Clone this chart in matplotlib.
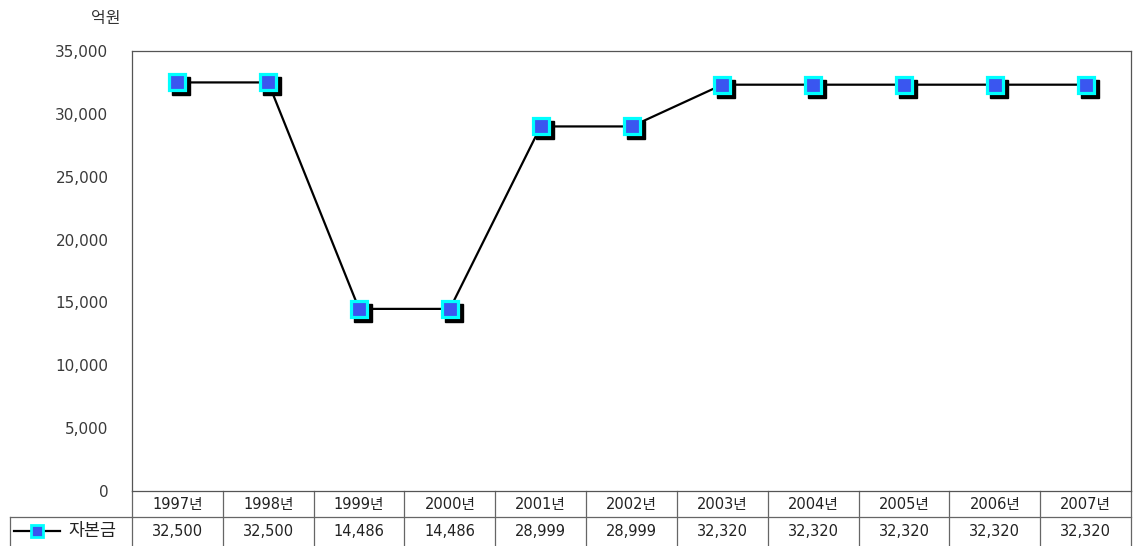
import matplotlib
matplotlib.use("Agg")
import matplotlib.pyplot as plt
import matplotlib.transforms as mtransforms
import numpy as np

plt.rcParams['font.family'] = ['DejaVu Sans', 'Noto Sans CJK KR']

years = ['1997년', '1998년', '1999년', '2000년', '2001년', '2002년',
         '2003년', '2004년', '2005년', '2006년', '2007년']
capital = [32500, 32500, 14486, 14486, 28999, 28999, 32320, 32320, 32320, 32320, 32320]
series_name = '자본금'
unit = '억원'
yticks = [0, 5000, 10000, 15000, 20000, 25000, 30000, 35000]

W, H = 1133, 546
fig = plt.figure(figsize=(W / 100, H / 100), dpi=100)
ax = fig.add_axes([132 / W, 1 - 491 / H, (1131 - 132) / W, 440 / H])

x = np.arange(len(years))
ax.set_xlim(-0.5, len(years) - 0.5)
ax.set_ylim(0, 35000)

# line
ax.plot(x, capital, color='black', lw=1.6, zorder=2)
# marker shadow
shadow = mtransforms.offset_copy(ax.transData, fig=fig, x=4, y=-4, units='dots')
ax.plot(x, capital, ls='none', marker='s', ms=13.5, color='black', transform=shadow, zorder=3)
# markers
ax.plot(x, capital, ls='none', marker='s', ms=11.5, mfc='#3a56f0', mec='#00ffff',
        mew=2.3, zorder=4)

ax.set_xticks([])
ax.set_yticks(yticks)
ax.set_yticklabels(['{:,}'.format(v) for v in yticks], fontsize=11, color='#3a3a3a')
ax.tick_params(axis='y', length=0, pad=17)
for s in ax.spines.values():
    s.set_color('#555555')
    s.set_linewidth(0.9)

fig.text(120 / W, 1 - 18 / H, unit, ha='right', va='center', fontsize=11.5, color='#333333',
         family=['Noto Sans CJK KR'])

# data table below the axes
trans = mtransforms.blended_transform_factory(ax.transData, ax.transAxes)
r1 = -26 / 440
r2 = -70 / 440
lc = '#666666'
for b in np.arange(-0.5, len(years), 1.0):
    ax.plot([b, b], [0, r2], color=lc, lw=0.9, transform=trans, clip_on=False)
ax.plot([-0.5, len(years) - 0.5], [r1, r1], color=lc, lw=0.9, transform=trans, clip_on=False)
for i, (yr, v) in enumerate(zip(years, capital)):
    ax.text(i, r1 / 2, yr, transform=trans, ha='center', va='center', fontsize=10.5, color='#222222')
    ax.text(i, r1 - 14 / 440, '{:,}'.format(v), transform=trans, ha='center', va='center',
            fontsize=10.5, color='#222222')

# legend cell
fig.add_artist(plt.Line2D([10 / W, 132 / W], [1 - 517 / H, 1 - 517 / H], color=lc, lw=0.9))
fig.add_artist(plt.Line2D([10 / W, 10 / W], [1 - 517 / H, 0], color=lc, lw=0.9))
ly = 1 - 531 / H
fig.add_artist(plt.Line2D([14 / W, 60 / W], [ly, ly], color='black', lw=1.6))
fig.add_artist(plt.Line2D([37 / W], [ly], ls='none', marker='s', ms=8, mfc='#3a56f0',
                          mec='#00ffff', mew=2))
fig.text(92 / W, ly, series_name, ha='center', va='center', fontsize=12.5, color='#222222',
         family=['Noto Sans CJK KR'])

fig.savefig('out.png', dpi=100)
